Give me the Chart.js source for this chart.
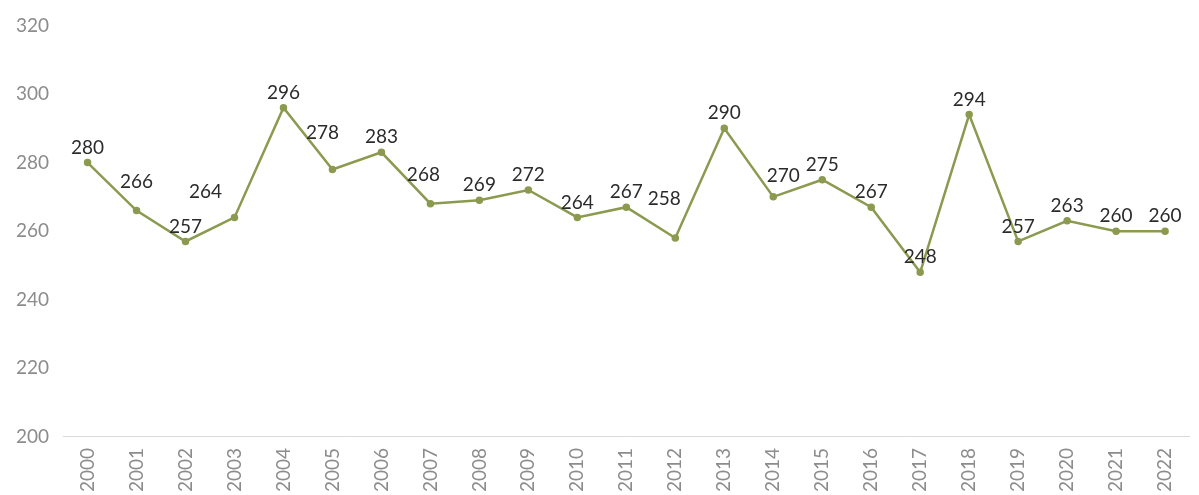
<!DOCTYPE html>
<html lang="es">
<head>
  <meta charset="UTF-8">
  <title>Serie anual</title>
  <script src="https://cdn.jsdelivr.net/npm/chart.js"></script>
  <style>
    html, body { margin: 0; padding: 0; background: #fff; }
    #wrap { width: 1199px; height: 495px; position: relative; }
  </style>
</head>
<body>
  <div id="wrap"><canvas id="graphCanvas"></canvas></div>

  <script>
    const years = ['2000', '2001', '2002', '2003', '2004', '2005', '2006', '2007', '2008', '2009', '2010', '2011',
      '2012', '2013', '2014', '2015', '2016', '2017', '2018', '2019', '2020', '2021', '2022'];
    const values = [280, 266, 257, 264, 296, 278, 283, 268, 269, 272, 264, 267,
      258, 290, 270, 275, 267, 248, 294, 257, 263, 260, 260];
    const yTicks = [200, 220, 240, 260, 280, 300, 320];

    const lineColor = '#8b9a4f';

    // etiquetas que no van justo encima del punto
    const labelNudge = {
      1: [0, -29],
      3: [-29, -26],
      5: [-10, -37],
      7: [-7, -29],
      12: [-11, -39],
      14: [10, -21]
    };

    const valueLabels = {
      id: 'valueLabels',
      afterDatasetsDraw(chart) {
        const ctx = chart.ctx;
        const meta = chart.getDatasetMeta(0);
        ctx.save();
        ctx.font = '19px Lato';
        ctx.fillStyle = '#2b2b2b';
        ctx.textAlign = 'center';
        ctx.textBaseline = 'middle';
        meta.data.forEach((pt, i) => {
          const n = labelNudge[i] || [0, -15];
          ctx.fillText(String(values[i]), pt.x + n[0], pt.y + n[1]);
        });
        ctx.restore();
      }
    };

    const ctx = document.getElementById('graphCanvas').getContext('2d');
    const myChart = new Chart(ctx, {
      type: 'line',
      data: {
        labels: years,
        datasets: [{
          data: values,
          borderColor: lineColor,
          backgroundColor: lineColor,
          borderWidth: 2.5,
          pointRadius: 2.5,
          pointHoverRadius: 2.5,
          tension: 0
        }]
      },
      options: {
        responsive: true,
        maintainAspectRatio: false,
        animation: false,
        layout: { padding: { top: 8, right: 0, left: 2, bottom: -8 } },
        plugins: {
          legend: { display: false },
          tooltip: { enabled: false }
        },
        scales: {
          x: {
            offset: true,
            grid: { display: false, drawTicks: false },
            border: { display: true, color: '#d9d9d9', width: 1 },
            ticks: {
              color: '#8c8c8c',
              font: { family: 'Lato', size: 19 },
              minRotation: 90,
              maxRotation: 90,
              padding: 11
            }
          },
          y: {
            min: 200,
            max: 320,
            afterBuildTicks(axis) {
              axis.ticks = yTicks.map(v => ({ value: v }));
            },
            grid: { display: false, drawTicks: false },
            border: { display: false },
            ticks: {
              color: '#8c8c8c',
              font: { family: 'Lato', size: 19 },
              padding: 14
            }
          }
        }
      },
      plugins: [valueLabels]
    });
  </script>
</body>
</html>
